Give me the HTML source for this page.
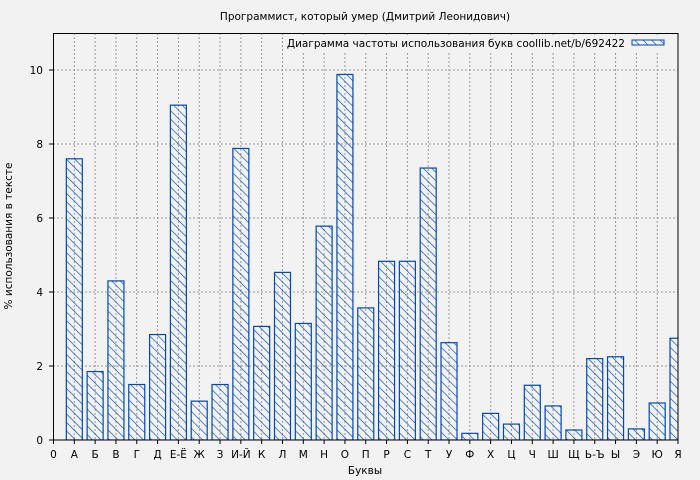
<!DOCTYPE html>
<html><head><meta charset="utf-8"><style>
html,body{margin:0;padding:0;background:#f2f2f2;}
svg{display:block;font-family:"DejaVu Sans","Liberation Sans",sans-serif;}
</style></head><body>
<svg width="700" height="480" viewBox="0 0 700 480" xmlns="http://www.w3.org/2000/svg">
<defs>
<pattern id="h" patternUnits="userSpaceOnUse" width="6" height="6" patternTransform="rotate(-45)">
<line x1="0" y1="0" x2="0" y2="6" stroke="#0048b8" stroke-width="1.3"/>
</pattern>
<clipPath id="c"><rect x="53" y="33" width="625" height="407"/></clipPath>
</defs>
<rect width="700" height="480" fill="#f2f2f2"/>
<text x="365" y="20" font-size="10.5" text-anchor="middle">Программист, который умер (Дмитрий Леонидович)</text>
<g id="grid" stroke="#999" stroke-dasharray="2,2" stroke-width="1"></g>
<g id="bars" clip-path="url(#c)"></g>
<rect x="53.5" y="33.5" width="624.5" height="406.5" fill="none" stroke="#000" stroke-width="1"/>
<g id="ticks" font-size="10.5"></g>
<rect x="284" y="35" width="386" height="16" fill="#f2f2f2"/>
<text x="625" y="47" font-size="10.5" text-anchor="end">Диаграмма частоты использования букв coollib.net/b/692422</text>
<rect x="632" y="40" width="32" height="5" fill="url(#h)" stroke="#0048b8"/>
<text x="365" y="474" font-size="10.5" text-anchor="middle">Буквы</text>
<text transform="translate(12,236) rotate(-90)" font-size="10.5" text-anchor="middle">% использования в тексте</text>
</svg>
<script>
var labels=["0","А","Б","В","Г","Д","Е-Ё","Ж","З","И-Й","К","Л","М","Н","О","П","Р","С","Т","У","Ф","Х","Ц","Ч","Ш","Щ","Ь-Ъ","Ы","Э","Ю","Я"];
var vals=[7.6,1.85,4.3,1.5,2.85,9.05,1.05,1.5,7.88,3.07,4.53,3.15,5.78,9.88,3.57,4.83,4.83,7.35,2.63,0.18,0.72,0.43,1.48,0.92,0.27,2.2,2.25,0.3,1.0,2.75];
var ns="http://www.w3.org/2000/svg";
function el(t,a,p,txt){var e=document.createElementNS(ns,t);for(var k in a)e.setAttribute(k,a[k]);if(txt!=null)e.textContent=txt;document.getElementById(p).appendChild(e);}
var x0=53.5,dx=624.5/30,y0=440,py=37;
for(var i=1;i<30;i++){var x=x0+i*dx;el("line",{x1:x,y1:33,x2:x,y2:440},"grid");}
for(var v=2;v<=10;v+=2){var y=y0-v*py;el("line",{x1:53,y1:y,x2:678,y2:y},"grid");}
for(var i=0;i<vals.length;i++){var cx=x0+(i+1)*dx,h=vals[i]*py;el("rect",{x:cx-8,y:y0-h,width:16,height:h,fill:"url(#h)",stroke:"#0048b8","stroke-width":1.2},"bars");}
for(var i=0;i<31;i++){var x=x0+i*dx;el("line",{x1:x,y1:440,x2:x,y2:444,stroke:"#000"},"ticks");el("text",{x:x,y:458,"text-anchor":"middle"},"ticks",labels[i]);}
for(var v=0;v<=10;v+=2){var y=y0-v*py;el("line",{x1:49,y1:y,x2:53,y2:y,stroke:"#000"},"ticks");el("text",{x:43,y:y+4,"text-anchor":"end"},"ticks",String(v));}
</script>
</body></html>
